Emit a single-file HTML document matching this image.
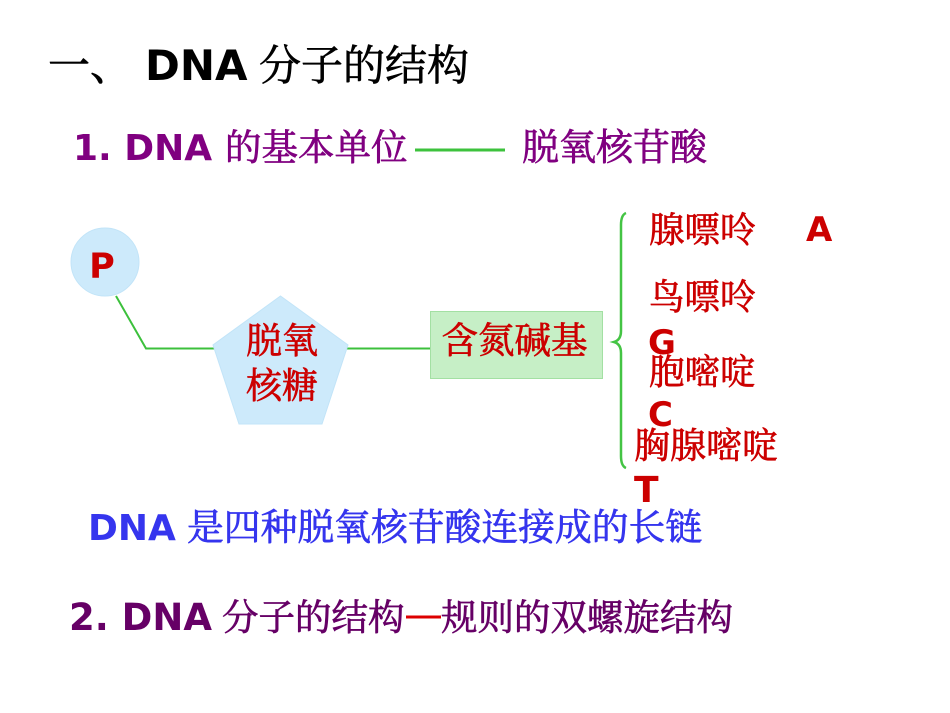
<!DOCTYPE html>
<html>
<head>
<meta charset="utf-8">
<style>
  html, body { margin: 0; padding: 0; background: #ffffff; }
  body { width: 950px; height: 713px; overflow: hidden; }
  svg { display: block; }
  .lat { font-family: "DejaVu Sans", "Liberation Sans", sans-serif; font-weight: bold; }
  .cjk { font-family: "Liberation Serif", "Noto Serif CJK SC", serif; stroke-width: 0.7px; stroke-linejoin: round; }
</style>
</head>
<body>
<svg width="950" height="713" viewBox="0 0 950 713" xmlns="http://www.w3.org/2000/svg">
  <rect x="0" y="0" width="950" height="713" fill="#ffffff"/>

  <!-- Title -->
  <text class="cjk" x="48" y="80" font-size="42" fill="#000000" stroke="#000000">一、</text>
  <text class="lat" x="145" y="80" font-size="42" fill="#000000">DNA</text>
  <text class="cjk" x="259" y="80" font-size="42" fill="#000000" stroke="#000000">分子的结构</text>

  <!-- Line 1 -->
  <text class="lat" x="73" y="160" font-size="36" fill="#800080">1. DNA</text>
  <text class="cjk" x="225" y="160" font-size="36.5" fill="#800080" stroke="#800080">的基本单位</text>
  <line x1="415" y1="150" x2="505" y2="150" stroke="#3cc23c" stroke-width="3"/>
  <text class="cjk" x="522" y="160" font-size="37" fill="#800080" stroke="#800080">脱氧核苷酸</text>

  <!-- Connectors -->
  <polyline points="116,296 146,348.5 215,348.5" fill="none" stroke="#3cc03c" stroke-width="2"/>
  <line x1="346" y1="348.5" x2="431" y2="348.5" stroke="#3cc03c" stroke-width="2"/>

  <!-- P circle -->
  <circle cx="105" cy="262" r="34" fill="#cdeafb" stroke="#c2e4f8" stroke-width="1"/>
  <text class="lat" x="102" y="278" font-size="35" fill="#cc0000" text-anchor="middle">P</text>

  <!-- Pentagon -->
  <polygon points="280.5,296 348,345 322,424 239,424 213,345" fill="#cdeafb" stroke="#c2e4f8" stroke-width="1"/>
  <text class="cjk" x="282" y="353" font-size="36" fill="#cc0000" stroke="#cc0000" text-anchor="middle">脱氧</text>
  <text class="cjk" x="282" y="398" font-size="36" fill="#cc0000" stroke="#cc0000" text-anchor="middle">核糖</text>

  <!-- Box -->
  <rect x="430.5" y="311.5" width="172" height="67" fill="#c6efc6" stroke="#a3e0a3" stroke-width="1"/>
  <text class="cjk" x="514.5" y="353" font-size="36.5" fill="#cc0000" stroke="#cc0000" text-anchor="middle">含氮碱基</text>

  <!-- Brace -->
  <path d="M 626 213 Q 621 215 621 225 L 621 331 Q 621 340 614 342 Q 621 344 621 353 L 621 456 Q 621 466 626 468"
        fill="none" stroke="#44c444" stroke-width="2.5"/>

  <!-- Bases -->
  <text class="cjk" x="649" y="242" font-size="35.5" fill="#cc0000" stroke="#cc0000">腺嘌呤</text>
  <text class="lat" x="806" y="241" font-size="34" fill="#cc0000">A</text>

  <text class="cjk" x="649" y="309" font-size="35.5" fill="#cc0000" stroke="#cc0000">鸟嘌呤</text>
  <text class="lat" x="648" y="354" font-size="34" fill="#cc0000">G</text>

  <text class="cjk" x="649" y="384" font-size="35.5" fill="#cc0000" stroke="#cc0000">胞嘧啶</text>
  <text class="lat" x="648" y="426" font-size="34" fill="#cc0000">C</text>

  <text class="cjk" x="634" y="458" font-size="36" fill="#cc0000" stroke="#cc0000">胸腺嘧啶</text>
  <text class="lat" x="634" y="502" font-size="36" fill="#cc0000">T</text>

  <!-- Blue line -->
  <text class="lat" x="88" y="540" font-size="36" fill="#3535ee">DNA</text>
  <text class="cjk" x="187" y="540" font-size="36.8" fill="#3535ee" stroke="#3535ee">是四种脱氧核苷酸连接成的长链</text>

  <!-- Line 2 -->
  <text class="lat" x="69" y="630" font-size="37" fill="#660066">2. DNA</text>
  <text class="cjk" x="222" y="630" font-size="36.5" fill="#660066" stroke="#660066">分子的结构</text>
  <rect x="406" y="615.5" width="35" height="3" fill="#dd0000"/>
  <text class="cjk" x="441" y="630" font-size="36.5" fill="#660066" stroke="#660066">规则的双螺旋结构</text>
</svg>
</body>
</html>
